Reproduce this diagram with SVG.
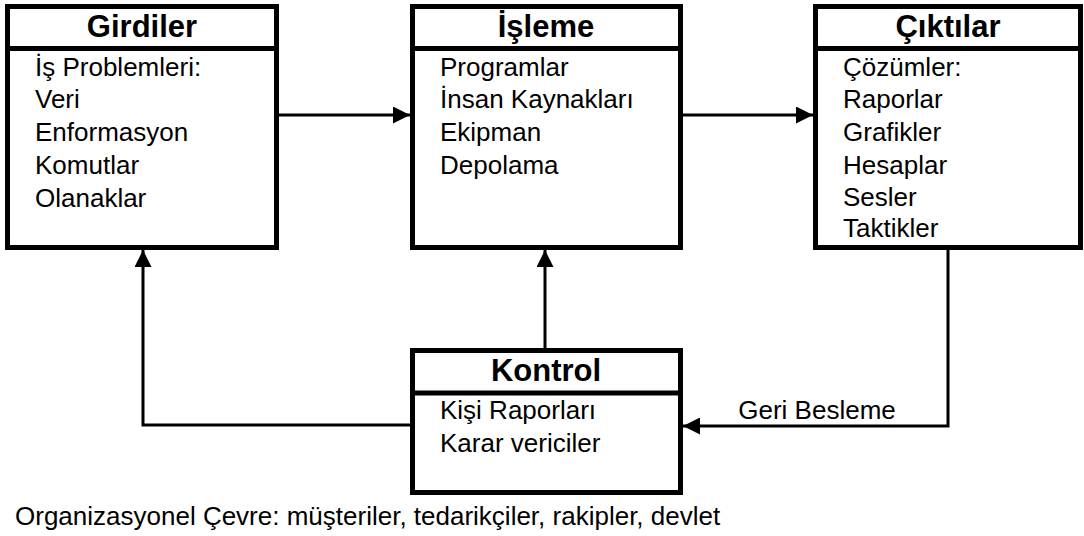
<svg xmlns="http://www.w3.org/2000/svg" width="1084" height="536" viewBox="0 0 1084 536">
  <style>
    .box { fill: #ffffff; stroke: #000000; stroke-width: 5; }
    .div { stroke: #000000; stroke-width: 5; }
    .title { font-family: "Liberation Sans", Arial, sans-serif; font-weight: bold; font-size: 31px; fill: #000000; text-anchor: middle; }
    .body { font-family: "Liberation Sans", Arial, sans-serif; font-size: 26px; fill: #000000; }
    .conn { fill: none; stroke: #000000; stroke-width: 3; }
  </style>
  <defs>
    <marker id="arrow" markerUnits="userSpaceOnUse" markerWidth="17" markerHeight="17" refX="17" refY="8.5" orient="auto">
      <path d="M0,0 L17,8.5 L0,17 Z" fill="#000000"/>
    </marker>
  </defs>
  <rect width="1084" height="536" fill="#ffffff"/>

  <g id="connectors">
    <line class="conn" x1="279" y1="115" x2="410" y2="115" marker-end="url(#arrow)"/>
    <line class="conn" x1="683" y1="115" x2="813" y2="115" marker-end="url(#arrow)"/>
    <line class="conn" x1="545" y1="348" x2="545" y2="250" marker-end="url(#arrow)"/>
    <polyline class="conn" points="410,425 143,425 143,250" marker-end="url(#arrow)"/>
    <polyline class="conn" points="948,250 948,426 683,426" marker-end="url(#arrow)"/>
    <text class="body" x="817" y="419" text-anchor="middle">Geri Besleme</text>
  </g>

  <g id="girdiler">
    <rect class="box" x="7.5" y="6.5" width="269" height="241"/>
    <line class="div" x1="7.5" y1="48.5" x2="276.5" y2="48.5"/>
    <text class="title" x="142" y="37">Girdiler</text>
    <text class="body" x="35" y="76">İş Problemleri:</text>
    <text class="body" x="35" y="108">Veri</text>
    <text class="body" x="35" y="141">Enformasyon</text>
    <text class="body" x="35" y="174">Komutlar</text>
    <text class="body" x="35" y="207">Olanaklar</text>
  </g>

  <g id="isleme">
    <rect class="box" x="412.5" y="6.5" width="268" height="241"/>
    <line class="div" x1="412.5" y1="48.5" x2="680.5" y2="48.5"/>
    <text class="title" x="546" y="37">İşleme</text>
    <text class="body" x="440" y="76">Programlar</text>
    <text class="body" x="440" y="108">İnsan Kaynakları</text>
    <text class="body" x="440" y="141">Ekipman</text>
    <text class="body" x="440" y="174">Depolama</text>
  </g>

  <g id="ciktilar">
    <rect class="box" x="815.5" y="6.5" width="265" height="241"/>
    <line class="div" x1="815.5" y1="48.5" x2="1080.5" y2="48.5"/>
    <text class="title" x="948" y="37">Çıktılar</text>
    <text class="body" x="843" y="76">Çözümler:</text>
    <text class="body" x="843" y="108">Raporlar</text>
    <text class="body" x="843" y="141">Grafikler</text>
    <text class="body" x="843" y="174">Hesaplar</text>
    <text class="body" x="843" y="206">Sesler</text>
    <text class="body" x="843" y="237">Taktikler</text>
  </g>

  <g id="kontrol">
    <rect class="box" x="412.5" y="350.5" width="268" height="142"/>
    <line class="div" x1="412.5" y1="393" x2="680.5" y2="393"/>
    <text class="title" x="546" y="381">Kontrol</text>
    <text class="body" x="440" y="419">Kişi Raporları</text>
    <text class="body" x="440" y="452">Karar vericiler</text>
  </g>

  <text class="body" x="15" y="525">Organizasyonel Çevre: müşteriler, tedarikçiler, rakipler, devlet</text>
</svg>
